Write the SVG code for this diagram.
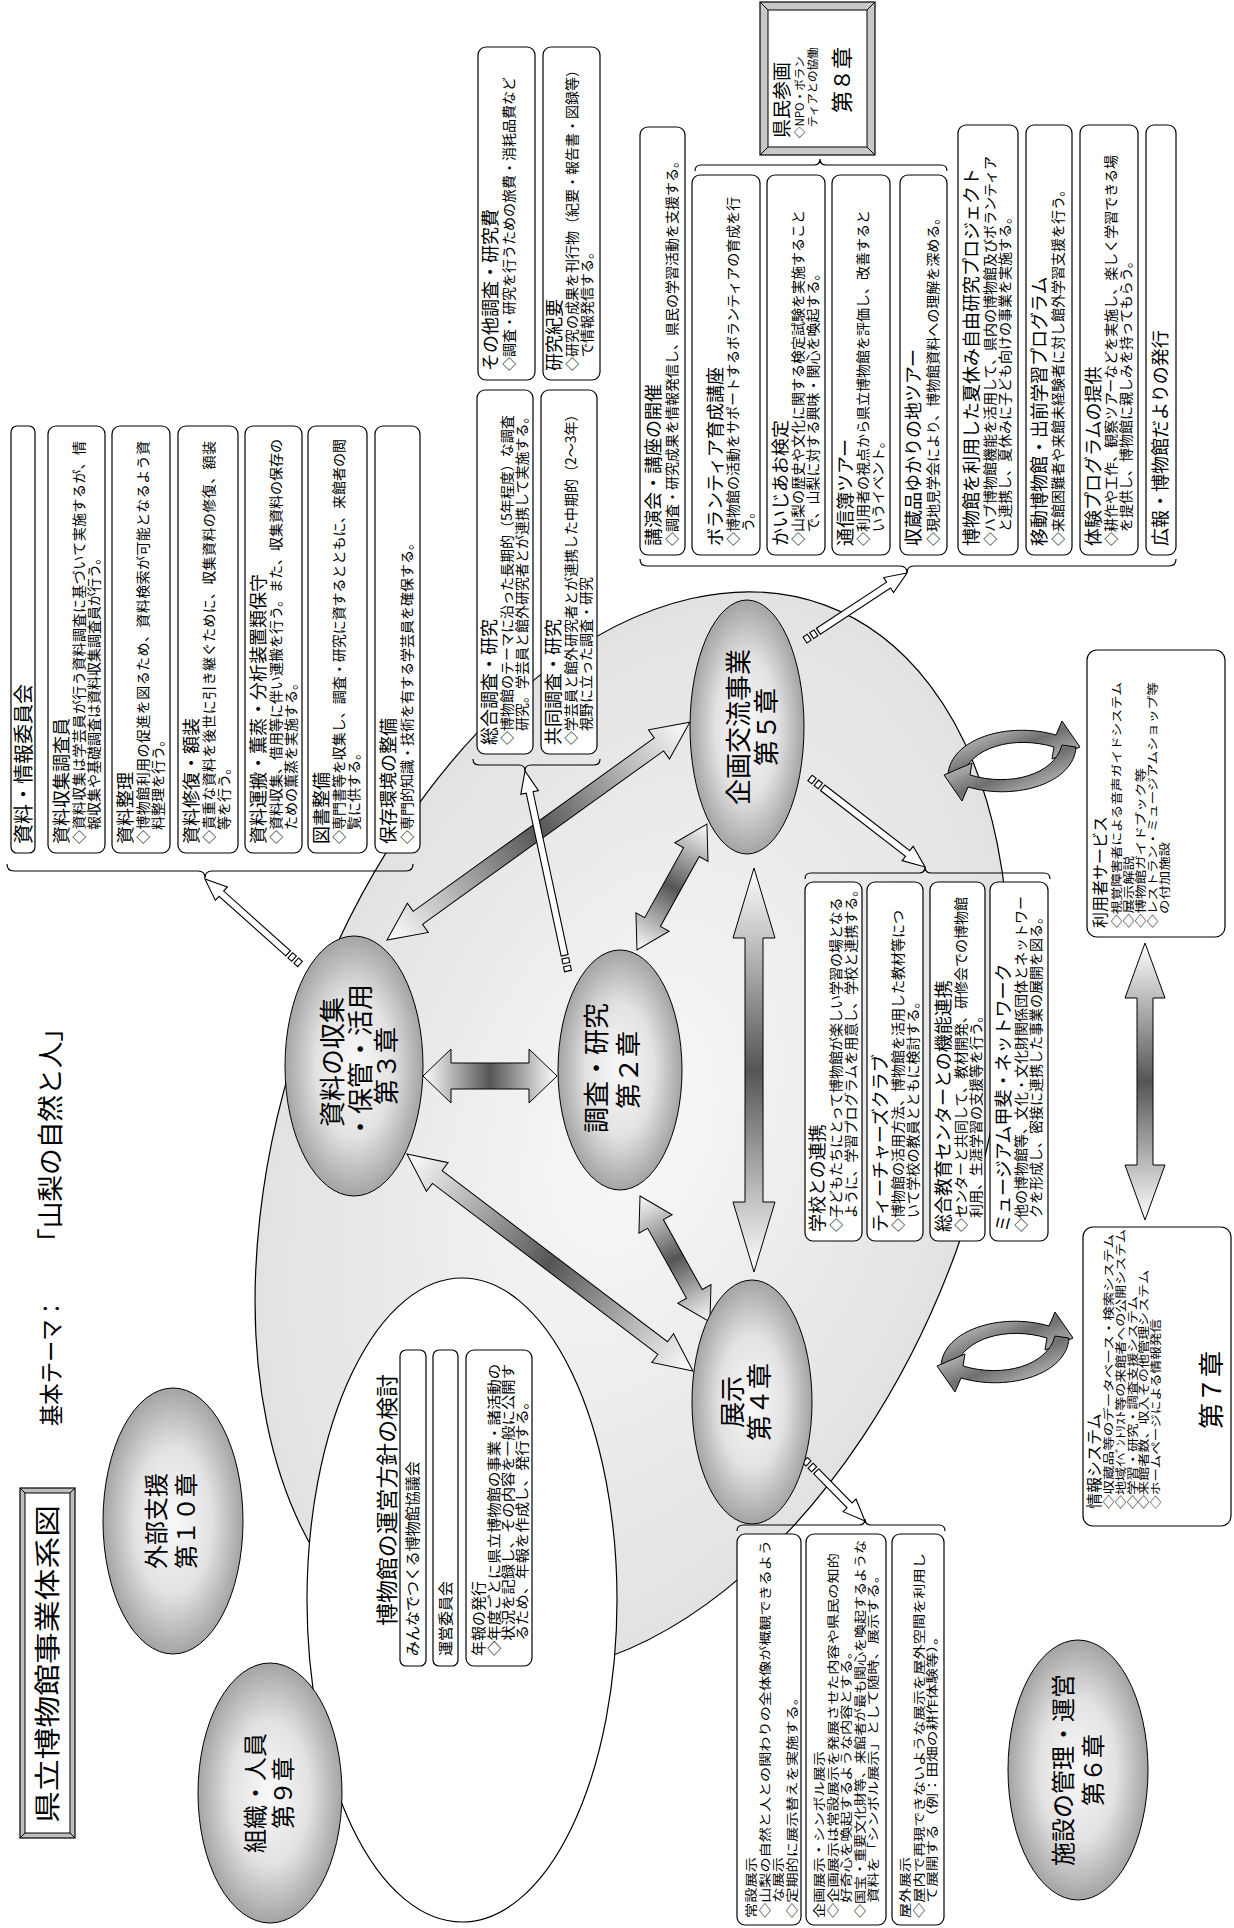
<svg xmlns="http://www.w3.org/2000/svg" width="1234" height="1928" viewBox="0 0 1234 1928">
<defs>
<radialGradient id="gCh" cx="50%" cy="50%" r="50%">
<stop offset="0" stop-color="#f9f9f9"/>
<stop offset="0.55" stop-color="#e2e2e2"/>
<stop offset="1" stop-color="#a4a4a4"/>
</radialGradient>
<radialGradient id="gBig" cx="50%" cy="50%" r="50%">
<stop offset="0" stop-color="#f8f8f8"/>
<stop offset="1" stop-color="#e2e2e2"/>
</radialGradient>
<linearGradient id="gArr" x1="0" y1="0" x2="1" y2="0">
<stop offset="0" stop-color="#ffffff"/>
<stop offset="0.5" stop-color="#555555"/>
<stop offset="1" stop-color="#ffffff"/>
</linearGradient>
<linearGradient id="gCyc" x1="0" y1="0" x2="1" y2="1">
<stop offset="0" stop-color="#f2f2f2"/>
<stop offset="0.5" stop-color="#6e6e6e"/>
<stop offset="1" stop-color="#eeeeee"/>
</linearGradient>
<style>
.bx{fill:#fff;stroke:#000;stroke-width:1.2}
.t{font-family:"Noto Sans CJK JP","Noto Sans CJK SC",sans-serif;fill:#000}
.tt{font-size:18px}
.tb{font-size:14px}
.tm{font-size:12px}
.ts{font-size:11.5px}
.tc{font-size:26px;text-anchor:middle}
.tc2{font-size:24px;text-anchor:middle}
.ch{fill:url(#gCh);stroke:#000;stroke-width:1}
.da{fill:url(#gArr);stroke:#000;stroke-width:1}
.wa{fill:#fff;stroke:#000;stroke-width:1.1}
.br{fill:none;stroke:#000;stroke-width:1.2}
.cy{fill:url(#gCyc);stroke:#000;stroke-width:1}
</style>
</defs>
<rect width="1234" height="1928" fill="#fff"/>
<g transform="translate(0 1928) rotate(-90)">

<g id="title">
<rect x="90" y="20" width="350" height="55" fill="#bdbdbd" stroke="#000" stroke-width="1.2"/>
<rect x="95" y="25" width="340" height="45" fill="#fff" stroke="#000" stroke-width="1"/>
<path d="M90,20 L95,25 M440,20 L435,25 M90,75 L95,70 M440,75 L435,70" stroke="#000" stroke-width="1"/>
<text class="t" x="105" y="57" font-size="26" textLength="318" lengthAdjust="spacingAndGlyphs">県立博物館事業体系図</text>
</g>
<g id="theme">
<text class="t" x="502" y="60" font-size="24" textLength="128" lengthAdjust="spacingAndGlyphs">基本テーマ：</text>
<text class="t" x="673" y="60" font-size="26" textLength="240" lengthAdjust="spacingAndGlyphs">「山梨の自然と人」</text>
</g>

<g id="main-ellipse">
<ellipse cx="795" cy="632" rx="562" ry="345" transform="rotate(20 795 632)" fill="url(#gBig)" stroke="#000" stroke-width="1.2"/>
</g>

<g id="policy">
<ellipse cx="328" cy="462" rx="322" ry="155" fill="#fff" stroke="#000" stroke-width="1.2"/>
<text class="t" x="302" y="395" font-size="22" textLength="252" lengthAdjust="spacingAndGlyphs">博物館の運営方針の検討</text>
<rect class="bx" x="262" y="400" width="316" height="26" rx="6"/>
<text class="t" x="272" y="418" font-size="15">みんなでつくる博物館協議会</text>
<rect class="bx" x="262" y="433" width="316" height="25" rx="6"/>
<text class="t" x="272" y="451" font-size="15">運営委員会</text>
<rect class="bx" x="262" y="466" width="316" height="66" rx="8"/>
<text class="t" x="272" y="484" font-size="15">年報の発行</text>
<text class="t" x="272" y="499" font-size="14" textLength="292" lengthAdjust="spacingAndGlyphs">◇年度ごとに県立博物館の事業・諸活動の</text>
<text class="t" x="272" y="513" font-size="14" textLength="292" lengthAdjust="spacingAndGlyphs">　状況を記録し、その内容を一般に公開す</text>
<text class="t" x="272" y="527" font-size="14" textLength="262" lengthAdjust="spacingAndGlyphs">　るため、年報を作成し、発行する。</text>
</g>

<g id="connectors">
<path class="da" transform="translate(852 423) rotate(90)" d="M0,0 L28,-27 L28,-13 L106,-13 L106,-27 L134,0 L106,27 L106,13 L28,13 L28,27 Z"/>
<path class="da" transform="translate(988 387) rotate(54.27)" d="M0,0 L38,-18 L38,-8 L335,-8 L335,-18 L373,0 L335,18 L335,8 L38,8 L38,18 Z"/>
<path class="da" transform="translate(774 407) rotate(127.2)" d="M0,0 L38,-18 L38,-8 L321,-8 L321,-18 L359,0 L321,18 L321,8 L38,8 L38,18 Z"/>
<path class="da" transform="translate(978 637) rotate(29.05)" d="M0,0 L32,-19 L32,-9 L112,-9 L112,-19 L144,0 L112,19 L112,9 L32,9 L32,19 Z"/>
<path class="da" transform="translate(732 640) rotate(150.95)" d="M0,0 L32,-19 L32,-9 L112,-9 L112,-19 L144,0 L112,19 L112,9 L32,9 L32,19 Z"/>
<path class="da" transform="translate(656 754)" d="M0,0 L70,-21 L70,-9 L334,-9 L334,-21 L404,0 L334,21 L334,9 L70,9 L70,21 Z"/>
<path class="da" transform="translate(708 1145)" d="M0,0 L55,-20 L55,-8 L222,-8 L222,-20 L277,0 L222,20 L222,8 L55,8 L55,20 Z"/>

<g transform="translate(964 300) rotate(-48.2)"><rect class="wa" x="0" y="-3.5" width="5" height="7"/><rect class="wa" x="8" y="-3.5" width="5" height="7"/><path class="wa" d="M16,-3.5 L105.5,-3.5 L105.5,-9 L127.5,0 L105.5,9 L105.5,3.5 L16,3.5 Z"/></g>
<g transform="translate(957 568) rotate(-12.13)"><rect class="wa" x="0" y="-3.5" width="5" height="7"/><rect class="wa" x="8" y="-3.5" width="5" height="7"/><path class="wa" d="M16,-3.5 L182.6,-3.5 L182.6,-9 L204.6,0 L182.6,9 L182.6,3.5 L16,3.5 Z"/></g>
<g transform="translate(1288 805) rotate(56.7)"><rect class="wa" x="0" y="-3.5" width="5" height="7"/><rect class="wa" x="8" y="-3.5" width="5" height="7"/><path class="wa" d="M16,-3.5 L100,-3.5 L100,-9 L122,0 L100,9 L100,3.5 L16,3.5 Z"/></g>
<g transform="translate(1150 810) rotate(127.7)"><rect class="wa" x="0" y="-3.5" width="5" height="7"/><rect class="wa" x="8" y="-3.5" width="5" height="7"/><path class="wa" d="M16,-3.5 L123.4,-3.5 L123.4,-9 L145.4,0 L123.4,9 L123.4,3.5 L16,3.5 Z"/></g>
<g transform="translate(468 805) rotate(135.5)"><rect class="wa" x="0" y="-3.5" width="5" height="7"/><rect class="wa" x="8" y="-3.5" width="5" height="7"/><path class="wa" d="M16,-3.5 L63.6,-3.5 L63.6,-9 L85.6,0 L63.6,9 L63.6,3.5 L16,3.5 Z"/></g>

<path class="br" d="M1064,7 Q1057,7 1057,14 L1057,198 Q1057,205 1050,205 Q1057,205 1057,212 L1057,406 Q1057,413 1064,413"/>
<path class="br" d="M1169,473 Q1163,473 1163,479 L1163,519 Q1163,525 1157,525 Q1163,525 1163,531 L1163,594 Q1163,600 1169,600"/>
<path class="br" d="M1369,640 Q1362,640 1362,647 L1362,900 Q1362,907 1355,907 Q1362,907 1362,914 L1362,1169 Q1362,1176 1369,1176"/>
<path class="br" d="M1757,695 Q1763,695 1763,701 L1763,814 Q1763,820 1769,820 Q1763,820 1763,826 L1763,941 Q1763,947 1757,947"/>
<path class="br" d="M1049,805 Q1055,805 1055,811 L1055,919 Q1055,925 1061,925 Q1055,925 1055,931 L1055,1044 Q1055,1050 1049,1050"/>
<path class="br" d="M397,737 Q403,737 403,743 L403,859 Q403,865 409,865 Q403,865 403,871 L403,939 Q403,945 397,945"/>

<g transform="translate(1167 1012) rotate(90)">
<path class="cy" d="M-64,14 C-62,-22 -4,-40 44,-26 L50,-40 L68,-14 L40,-2 L42,-14 C2,-26 -42,-14 -50,16 Z"/>
<path class="cy" d="M64,-14 C62,22 4,40 -44,26 L-50,40 L-68,14 L-40,2 L-42,14 C-2,26 42,14 50,-16 Z"/>
</g>
<g transform="translate(576 1005) rotate(90)">
<path class="cy" d="M-64,14 C-62,-22 -4,-40 44,-26 L50,-40 L68,-14 L40,-2 L42,-14 C2,-26 -42,-14 -50,16 Z"/>
<path class="cy" d="M64,-14 C62,22 4,40 -44,26 L-50,40 L-68,14 L-40,2 L-42,14 C-2,26 42,14 50,-16 Z"/>
</g>
</g>

<g id="ch3">
<ellipse class="ch" cx="862" cy="354" rx="130" ry="69"/>
<text class="t tc" x="866" y="342">資料の収集</text>
<text class="t tc" x="866" y="370">・保管・活用</text>
<text class="t tc" x="862" y="396">第３章</text>
</g>
<g id="ch2">
<ellipse class="ch" cx="858" cy="620" rx="120" ry="62"/>
<text class="t tc" x="860" y="606">調査・研究</text>
<text class="t tc" x="858" y="638">第２章</text>
</g>
<g id="ch5">
<ellipse class="ch" cx="1201" cy="747" rx="127" ry="57"/>
<text class="t tc" x="1201" y="748">企画交流事業</text>
<text class="t tc" x="1201" y="776">第５章</text>
</g>
<g id="ch4">
<ellipse class="ch" cx="526" cy="752" rx="122" ry="60"/>
<text class="t tc" x="526" y="742">展示</text>
<text class="t tc" x="526" y="769">第４章</text>
</g>
<g id="ch10">
<ellipse class="ch" cx="407" cy="173" rx="133" ry="70"/>
<text class="t tc2" x="407" y="165">外部支援</text>
<text class="t tc2" x="407" y="195">第１０章</text>
</g>
<g id="ch9">
<ellipse class="ch" cx="135" cy="270" rx="130" ry="72"/>
<text class="t tc2" x="135" y="264">組織・人員</text>
<text class="t tc2" x="135" y="292">第９章</text>
</g>
<g id="ch6">
<ellipse class="ch" cx="158" cy="1078" rx="130" ry="70"/>
<text class="t tc2" x="158" y="1072">施設の管理・運営</text>
<text class="t tc2" x="158" y="1102">第６章</text>
</g>

<g id="collection-boxes">
<rect class="bx" x="1075" y="11" width="427" height="24" rx="6"/>
<text class="t" x="1084" y="31" font-size="20" textLength="160" lengthAdjust="spacingAndGlyphs">資料・情報委員会</text>
<rect class="bx" x="1075" y="48" width="427" height="57" rx="8"/>
<text class="t tt" x="1084" y="68">資料収集調査員</text>
<text class="t tb" x="1084" y="84" textLength="403">◇資料収集は学芸員が行う資料調査に基づいて実施するが、情</text>
<text class="t tb" x="1084" y="99">　報収集や基礎調査は資料収集調査員が行う。</text>
<rect class="bx" x="1075" y="112" width="427" height="58" rx="8"/>
<text class="t tt" x="1084" y="132">資料整理</text>
<text class="t tb" x="1084" y="148" textLength="403">◇博物館利用の促進を図るため、資料検索が可能となるよう資</text>
<text class="t tb" x="1084" y="163">　料整理を行う。</text>
<rect class="bx" x="1075" y="178" width="427" height="60" rx="8"/>
<text class="t tt" x="1084" y="198">資料修復・額装</text>
<text class="t tb" x="1084" y="214" textLength="403">◇貴重な資料を後世に引き継ぐために、収集資料の修復、額装</text>
<text class="t tb" x="1084" y="229">　等を行う。</text>
<rect class="bx" x="1075" y="245" width="427" height="57" rx="8"/>
<text class="t tt" x="1084" y="265">資料運搬・薫蒸・分析装置類保守</text>
<text class="t tb" x="1084" y="281" textLength="405">◇資料収集、借用等に伴い運搬を行う。また、収集資料の保存の</text>
<text class="t tb" x="1084" y="296">　ための薫蒸を実施する。</text>
<rect class="bx" x="1075" y="308" width="427" height="59" rx="8"/>
<text class="t tt" x="1084" y="328">図書整備</text>
<text class="t tb" x="1084" y="344" textLength="405">◇専門書等を収集し、調査・研究に資するとともに、来館者の閲</text>
<text class="t tb" x="1084" y="359">　覧に供する。</text>
<rect class="bx" x="1075" y="375" width="427" height="45" rx="8"/>
<text class="t tt" x="1084" y="395">保存環境の整備</text>
<text class="t tb" x="1084" y="412">◇専門的知識・技術を有する学芸員を確保する。</text>
</g>

<g id="research-boxes">
<rect class="bx" x="1548" y="478" width="333" height="57" rx="8"/>
<text class="t tt" x="1557" y="497">その他調査・研究費</text>
<text class="t tb" x="1557" y="514">◇調査・研究を行うための旅費・消耗品費など</text>
<rect class="bx" x="1548" y="543" width="333" height="57" rx="8"/>
<text class="t tt" x="1557" y="561">研究紀要</text>
<text class="t tb" x="1557" y="577">◇研究の成果を刊行物（紀要・報告書・図録等）</text>
<text class="t tb" x="1557" y="592">　で情報発信する。</text>
<rect class="bx" x="1174" y="477" width="364" height="56" rx="8"/>
<text class="t tt" x="1183" y="496">総合調査・研究</text>
<text class="t tb" x="1183" y="512">◇博物館のテーマに沿った長期的（5年程度）な調査</text>
<text class="t tb" x="1183" y="527">　研究。学芸員と館外研究者とが連携して実施する。</text>
<rect class="bx" x="1174" y="541" width="364" height="56" rx="8"/>
<text class="t tt" x="1183" y="560">共同調査・研究</text>
<text class="t tb" x="1183" y="576">◇学芸員と館外研究者とが連携した中期的（2～3年）</text>
<text class="t tb" x="1183" y="591">　視野に立った調査・研究</text>
</g>

<g id="participation">
<rect x="1773" y="760" width="153" height="115" fill="#c8c8c8" stroke="#000" stroke-width="1.2"/>
<rect x="1781" y="768" width="137" height="99" fill="#fff" stroke="#000" stroke-width="1"/>
<path d="M1773,760 L1781,768 M1926,760 L1918,768 M1773,875 L1781,867 M1926,875 L1918,867" stroke="#000" stroke-width="1"/>
<text class="t" x="1790" y="789" font-size="19">県民参画</text>
<text class="t" x="1790" y="804" font-size="11.5">◇NPO・ボラン</text>
<text class="t" x="1801" y="817" font-size="11.5">ティアとの協働</text>
<text class="t" x="1848" y="850" font-size="22" text-anchor="middle">第８章</text>
</g>

<g id="exchange-boxes">
<rect class="bx" x="1373" y="640" width="428" height="45" rx="8"/>
<text class="t tt" x="1382" y="660">講演会・講座の開催</text>
<text class="t tb" x="1382" y="677">◇調査・研究成果を情報発信し、県民の学習活動を支援する。</text>
<rect class="bx" x="1373" y="692" width="380" height="68" rx="8"/>
<text class="t tt" x="1382" y="722">ボランティア育成講座</text>
<text class="t tb" x="1382" y="738">◇博物館の活動をサポートするボランティアの育成を行</text>
<text class="t tb" x="1382" y="753">　う。</text>
<rect class="bx" x="1373" y="767" width="380" height="58" rx="8"/>
<text class="t tt" x="1382" y="787">かいじあお検定</text>
<text class="t tb" x="1382" y="803">◇山梨の歴史や文化に関する検定試験を実施すること</text>
<text class="t tb" x="1382" y="818">　で、山梨に対する興味・関心を喚起する。</text>
<rect class="bx" x="1373" y="832" width="380" height="58" rx="8"/>
<text class="t tt" x="1382" y="852">通信簿ツアー</text>
<text class="t tb" x="1382" y="868">◇利用者の視点から県立博物館を評価し、改善すると</text>
<text class="t tb" x="1382" y="883">　いうイベント。</text>
<rect class="bx" x="1373" y="900" width="380" height="47" rx="8"/>
<text class="t tt" x="1382" y="920">収蔵品ゆかりの地ツアー</text>
<text class="t tb" x="1382" y="938">◇現地見学会により、博物館資料への理解を深める。</text>
<rect class="bx" x="1373" y="958" width="430" height="60" rx="8"/>
<text class="t tt" x="1382" y="978">博物館を利用した夏休み自由研究プロジェクト</text>
<text class="t tb" x="1382" y="995">◇ハブ博物館機能を活用して、県内の博物館及びボランティア</text>
<text class="t tb" x="1382" y="1010">　と連携し、夏休みに子ども向けの事業を実施する。</text>
<rect class="bx" x="1373" y="1026" width="430" height="46" rx="8"/>
<text class="t tt" x="1382" y="1046">移動博物館・出前学習プログラム</text>
<text class="t tb" x="1382" y="1063">◇来館困難者や来館未経験者に対し館外学習支援を行う。</text>
<rect class="bx" x="1373" y="1080" width="430" height="58" rx="8"/>
<text class="t tt" x="1382" y="1100">体験プログラムの提供</text>
<text class="t tb" x="1382" y="1116">◇耕作や工作、観察ツアーなどを実施し、楽しく学習できる場</text>
<text class="t tb" x="1382" y="1131">　を提供し、博物館に親しみを持ってもらう。</text>
<rect class="bx" x="1373" y="1146" width="430" height="30" rx="8"/>
<text class="t tt" x="1382" y="1167">広報・博物館だよりの発行</text>
</g>

<g id="school-boxes">
<rect class="bx" x="687" y="805" width="359" height="57" rx="8"/>
<text class="t tt" x="696" y="824">学校との連携</text>
<text class="t tb" x="696" y="841">◇子どもたちにとって博物館が楽しい学習の場となる</text>
<text class="t tb" x="696" y="856">　ように、学習プログラムを用意し、学校と連携する。</text>
<rect class="bx" x="687" y="867" width="359" height="56" rx="8"/>
<text class="t tt" x="696" y="887">ティーチャーズクラブ</text>
<text class="t tb" x="696" y="903">◇博物館の活用方法、博物館を活用した教材等につ</text>
<text class="t tb" x="696" y="918">　いて学校の教員とともに検討する。</text>
<rect class="bx" x="687" y="930" width="359" height="55" rx="8"/>
<text class="t tt" x="696" y="950">総合教育センターとの機能連携</text>
<text class="t tb" x="696" y="966">◇センターと共同して、教材開発、研修会での博物館</text>
<text class="t tb" x="696" y="981">　利用、生涯学習の支援等を行う。</text>
<rect class="bx" x="687" y="990" width="359" height="58" rx="8"/>
<text class="t tt" x="696" y="1010">ミュージアム甲斐・ネットワーク</text>
<text class="t tb" x="696" y="1026">◇他の博物館等、文化・文化財関係団体とネットワー</text>
<text class="t tb" x="696" y="1041">　クを形成し、密接に連携した事業の展開を図る。</text>
</g>

<g id="exhibit-boxes">
<rect class="bx" x="3" y="737" width="391" height="64" rx="8"/>
<text class="t tm" x="10" y="756" textLength="61" lengthAdjust="spacingAndGlyphs">常設展示</text>
<text class="t tm" x="10" y="770" textLength="378" lengthAdjust="spacingAndGlyphs">◇山梨の自然と人との関わりの全体像が概観できるよう</text>
<text class="t tm" x="10" y="783" textLength="61" lengthAdjust="spacingAndGlyphs">　な展示</text>
<text class="t tm" x="10" y="797" textLength="228" lengthAdjust="spacingAndGlyphs">◇定期的に展示替えを実施する。</text>
<rect class="bx" x="3" y="806" width="391" height="80" rx="8"/>
<text class="t tm" x="10" y="824" textLength="167" lengthAdjust="spacingAndGlyphs">企画展示・シンボル展示</text>
<text class="t tm" x="10" y="838" textLength="365" lengthAdjust="spacingAndGlyphs">◇企画展示は常設展示を発展させた内容や県民の知的</text>
<text class="t tm" x="10" y="851" textLength="274" lengthAdjust="spacingAndGlyphs">　好奇心を喚起するような内容とする。</text>
<text class="t tm" x="10" y="865" textLength="378" lengthAdjust="spacingAndGlyphs">◇国宝・重要文化財等、来館者が最も関心を喚起するような</text>
<text class="t tm" x="10" y="878" textLength="350" lengthAdjust="spacingAndGlyphs">　資料を「シンボル展示」として随時、展示する。</text>
<rect class="bx" x="3" y="892" width="391" height="52" rx="8"/>
<text class="t tm" x="10" y="910" textLength="61" lengthAdjust="spacingAndGlyphs">屋外展示</text>
<text class="t tm" x="10" y="924" textLength="365" lengthAdjust="spacingAndGlyphs">◇屋内で再現できないような展示を屋外空間を利用し</text>
<text class="t tm" x="10" y="937" textLength="289" lengthAdjust="spacingAndGlyphs">　て展開する（例：田畑の耕作体験等）。</text>
</g>

<g id="user-service">
<rect class="bx" x="991" y="1087" width="287" height="138" rx="10"/>
<text class="t" x="1000" y="1106" font-size="16">利用者サービス</text>
<text class="t ts" x="1000" y="1121" textLength="246" lengthAdjust="spacingAndGlyphs">◇視覚障害者による音声ガイドシステム</text>
<text class="t ts" x="1000" y="1133" textLength="72" lengthAdjust="spacingAndGlyphs">◇展示解説</text>
<text class="t ts" x="1000" y="1145" textLength="160" lengthAdjust="spacingAndGlyphs">◇博物館ガイドブック等</text>
<text class="t ts" x="1000" y="1157" textLength="246" lengthAdjust="spacingAndGlyphs">◇レストラン・ミュージアムショップ等</text>
<text class="t ts" x="1014" y="1169" textLength="72" lengthAdjust="spacingAndGlyphs">の付加施設</text>
</g>

<g id="info-system">
<rect class="bx" x="402" y="1083" width="299" height="148" rx="10"/>
<text class="t" x="419" y="1100" font-size="16">情報システム</text>
<text class="t ts" x="419" y="1113" textLength="275" lengthAdjust="spacingAndGlyphs">◇収蔵品等のデータベース・検索システム</text>
<text class="t ts" x="419" y="1125" textLength="280" lengthAdjust="spacingAndGlyphs">◇地域ｲﾍﾞﾝﾄﾘｽﾄ等の来館者への公開システム</text>
<text class="t ts" x="419" y="1137" textLength="213" lengthAdjust="spacingAndGlyphs">◇学習・研究・調査支援システム</text>
<text class="t ts" x="419" y="1148" textLength="239" lengthAdjust="spacingAndGlyphs">◇来館者数、収入その他管理システム</text>
<text class="t ts" x="419" y="1160" textLength="190" lengthAdjust="spacingAndGlyphs">◇ホームページによる情報発信</text>
<text class="t" x="538" y="1221" font-size="26" text-anchor="middle">第７章</text>
</g>

</g>
</svg>
